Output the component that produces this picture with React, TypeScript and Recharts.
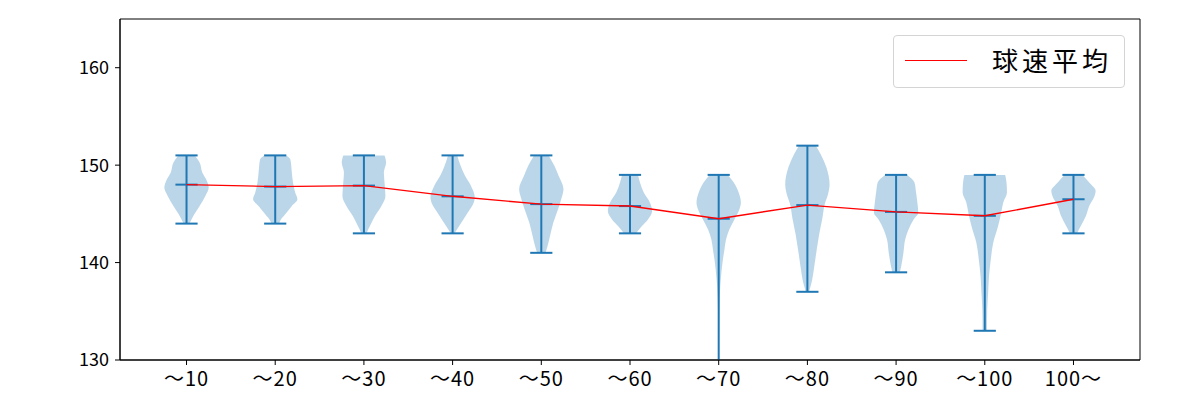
import React from 'react';
import { ComposedChart, XAxis, YAxis, Line, Area, Legend, ReferenceArea } from 'recharts';

const categories = ['～10', '～20', '～30', '～40', '～50', '～60', '～70', '～80', '～90', '～100', '100～'];
const positions = [1, 2, 3, 4, 5, 6, 7, 8, 9, 10, 11];
const means = [148.0, 147.8, 147.9, 146.8, 146.0, 145.8, 144.5, 145.9, 145.2, 144.8, 146.5];
const mins = [144, 144, 143, 143, 141, 143, 127, 137, 139, 133, 143];
const maxs = [151, 151, 151, 151, 151, 149, 149, 152, 149, 149, 149];
const yTicks = [130, 140, 150, 160];

// violin outlines: [speed, relative half-width]
const shape10 = [[151, 0.37], [150.27, 0.59], [149.24, 0.71], [148.38, 0.92], [147.7, 1.0], [146.84, 0.85], [145.81, 0.59], [144.95, 0.35], [144.09, 0.15], [144, 0.13]];
const shape20 = [[151, 0.5], [150.6, 0.68], [149.24, 0.75], [148.21, 0.8], [147.18, 0.9], [146.49, 1.0], [145.81, 0.75], [144.95, 0.45], [144.26, 0.22], [144, 0.18]];
const shape30 = [[151, 0.93], [150.27, 1.0], [149.24, 0.9], [148.21, 0.93], [146.84, 0.97], [145.81, 0.79], [144.78, 0.5], [143.75, 0.27], [143.06, 0.13], [143, 0.12]];
const shape40 = [[151, 0.21], [149.93, 0.36], [148.9, 0.56], [147.87, 0.83], [146.67, 1.0], [146.15, 0.95], [145.12, 0.68], [144.09, 0.39], [143.23, 0.15], [143, 0.1]];
const shape50 = [[151, 0.33], [149.93, 0.59], [148.9, 0.78], [147.53, 1.0], [146.67, 0.92], [145.46, 0.75], [144.09, 0.54], [142.71, 0.39], [141.68, 0.28], [141, 0.19]];
const shape60 = [[149, 0.36], [148.21, 0.45], [147.18, 0.62], [146.15, 0.9], [145.29, 1.0], [144.43, 0.81], [143.75, 0.54], [143.13, 0.32], [143, 0.28]];
const shape70 = [[149, 0.41], [148.21, 0.68], [147.18, 0.9], [146.15, 1.0], [145.46, 0.93], [144.43, 0.71], [143.4, 0.48], [142.37, 0.33], [141.34, 0.26], [140.31, 0.19], [138.93, 0.12], [137.56, 0.07], [135.15, 0.03], [132, 0.015], [127, 0.01]];
const shape80 = [[152, 0.38], [151.13, 0.6], [149.76, 0.86], [148.04, 1.0], [147.01, 0.93], [145.98, 0.78], [144.6, 0.68], [142.89, 0.53], [141.17, 0.41], [139.45, 0.3], [138.07, 0.2], [137.22, 0.1], [137, 0.08]];
const shape90 = [[149, 0.5], [148.21, 0.83], [147.18, 0.9], [146.15, 0.96], [145.12, 1.0], [144.43, 0.79], [143.4, 0.56], [142.37, 0.41], [140.99, 0.33], [139.62, 0.23], [139.1, 0.18], [139, 0.17]];
const shape100 = [[149, 0.92], [148.21, 0.98], [147.18, 1.0], [146.15, 0.83], [145.12, 0.74], [143.75, 0.6], [142.03, 0.38], [140.31, 0.27], [138.59, 0.19], [136.87, 0.15], [135.15, 0.11], [133.44, 0.1], [133, 0.1]];
const shape100plus = [[149, 0.41], [148.21, 0.71], [147.35, 1.0], [146.84, 0.95], [145.81, 0.71], [144.78, 0.56], [143.75, 0.33], [143.13, 0.19], [143, 0.17]];

const shapes = [shape10, shape20, shape30, shape40, shape50, shape60, shape70, shape80, shape90, shape100, shape100plus];

const VIOLIN_HALF = 0.25;
const CAP_HALF = 0.125;
const BLUE = '#1f77b4';
const FONT = '"Noto Sans CJK JP", "Noto Sans", sans-serif';

const violinData = shapes.map((s, i) =>
  s.map(([v, w]) => ({ v, r: [positions[i] - VIOLIN_HALF * w, positions[i] + VIOLIN_HALF * w] }))
);
const stemData = positions.map((p, i) => [{ v: maxs[i], x: p }, { v: mins[i], x: p }]);
const capData = (vals: number[]) =>
  positions.map((p, i) => [{ v: vals[i], x: p - CAP_HALF }, { v: vals[i], x: p + CAP_HALF }]);
const maxCaps = capData(maxs);
const minCaps = capData(mins);
const meanCaps = capData(means);
const meanLine = positions.map((p, i) => ({ v: means[i], x: p }));

const LegendBox = () => (
  <div
    style={{
      width: 230,
      height: 51,
      border: '1px solid #d4d4d4',
      borderRadius: 4,
      background: '#fff',
      position: 'relative',
      fontFamily: FONT,
    }}
  >
    <div style={{ position: 'absolute', left: 11, top: 24, width: 62, height: 0, borderTop: '1.4px solid #ff0000' }} />
    <div style={{ position: 'absolute', left: 98, top: 5, fontSize: 26, letterSpacing: 4, lineHeight: '38px', color: '#000', whiteSpace: 'nowrap' }}>球速平均</div>
  </div>
);

export default function App() {
  return (
    <div style={{ position: 'absolute', left: 0, top: 0, width: 1200, height: 400, background: '#fff', fontFamily: FONT }}>
      <ComposedChart width={1200} height={400} layout="vertical" margin={{ top: 19, right: 60, bottom: 0, left: 0 }}>
        <XAxis
          type="number"
          xAxisId="b"
          domain={[0.25, 11.75]}
          ticks={positions}
          tickFormatter={(v: number) => categories[v - 1]}
          allowDataOverflow
          interval={0}
          height={40}
          tickSize={5}
          tickMargin={7}
          stroke="#000"
          tick={{ fill: '#000', fontSize: 20, letterSpacing: 1, fontFamily: FONT }}
        />
        <YAxis
          type="number"
          yAxisId="l"
          dataKey="v"
          domain={[130, 165]}
          ticks={yTicks}
          allowDataOverflow
          reversed
          width={120}
          tickSize={5}
          tickMargin={6}
          stroke="#000"
          tick={{ fill: '#000', fontSize: 18, fontFamily: FONT }}
        />
        {violinData.map((d, i) => (
          <Area
            key={`a${i}`}
            xAxisId="b"
            yAxisId="l"
            data={d}
            dataKey="r"
            type="monotone"
            stroke="none"
            fill={BLUE}
            fillOpacity={0.3}
            isAnimationActive={false}
            legendType="none"
            activeDot={false}
          />
        ))}
        {stemData.map((d, i) => (
          <Line key={`s${i}`} xAxisId="b" yAxisId="l" data={d} dataKey="x" stroke={BLUE} strokeWidth={2} dot={false} activeDot={false} isAnimationActive={false} legendType="none" />
        ))}
        {maxCaps.map((d, i) => (
          <Line key={`mx${i}`} xAxisId="b" yAxisId="l" data={d} dataKey="x" stroke={BLUE} strokeWidth={2} dot={false} activeDot={false} isAnimationActive={false} legendType="none" />
        ))}
        {minCaps.map((d, i) => (
          <Line key={`mn${i}`} xAxisId="b" yAxisId="l" data={d} dataKey="x" stroke={BLUE} strokeWidth={2} dot={false} activeDot={false} isAnimationActive={false} legendType="none" />
        ))}
        {meanCaps.map((d, i) => (
          <Line key={`me${i}`} xAxisId="b" yAxisId="l" data={d} dataKey="x" stroke={BLUE} strokeWidth={2} dot={false} activeDot={false} isAnimationActive={false} legendType="none" />
        ))}
        <Line xAxisId="b" yAxisId="l" data={meanLine} dataKey="x" name="球速平均" stroke="#ff0000" strokeWidth={1.4} dot={false} activeDot={false} isAnimationActive={false} />
        <ReferenceArea xAxisId="b" yAxisId="l" x1={0.25} x2={11.75} y1={130} y2={165} fill="none" stroke="#000" strokeWidth={1} ifOverflow="visible" />
        <Legend
          layout="horizontal"
          verticalAlign="middle"
          align="center"
          content={() => <LegendBox />}
          wrapperStyle={{ position: 'absolute', left: 893, top: 35, width: 'auto', height: 'auto' }}
        />
      </ComposedChart>
    </div>
  );
}
